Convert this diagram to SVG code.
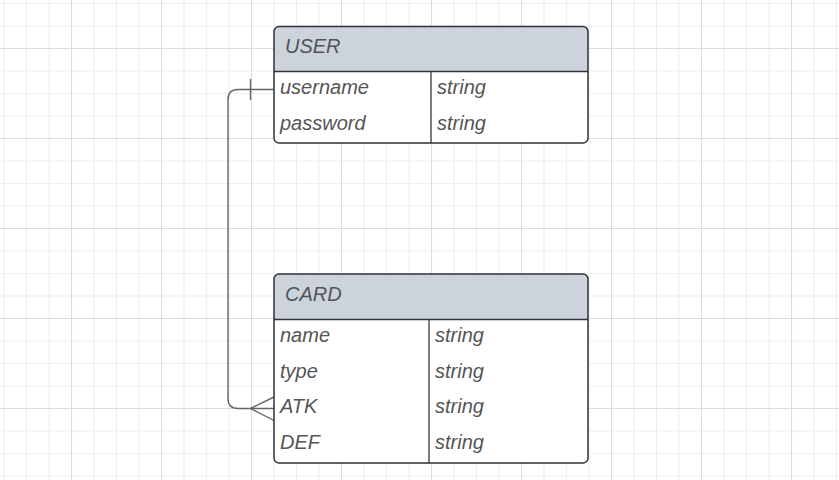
<svg xmlns="http://www.w3.org/2000/svg" width="839" height="480" viewBox="0 0 839 480">
  <style>
    .hdr { fill: #cdd3db; }
    .box { fill: none; stroke: #2e323b; stroke-width: 1.5; }
    .sep { stroke: #2e323b; stroke-width: 1.5; }
    .div { stroke: #6f6f72; stroke-width: 1.8; }
    .t { font-family: "Liberation Sans", Arial, sans-serif; font-style: italic; font-size: 20px; fill: #555555; }
    .th { font-family: "Liberation Sans", Arial, sans-serif; font-style: italic; font-size: 20px; fill: #50535a; }
    .conn { fill: none; stroke: #62656c; stroke-width: 1.4; }
  </style>
  <defs>
    <pattern id="grid" x="-19" y="-42" width="90" height="90" patternUnits="userSpaceOnUse">
      <path d="M23 0V90M45.5 0V90M68 0V90M0 23H90M0 45.5H90M0 68H90" stroke="#eeeeee" stroke-width="1.2" fill="none"/>
      <path d="M0.5 0V90M0 0.5H90" stroke="#dcdcdc" stroke-width="1.2" fill="none"/>
    </pattern>
  </defs>
  <rect width="839" height="480" fill="#ffffff"/>
  <rect width="839" height="480" fill="url(#grid)"/>

  <g id="connectors">
    <path class="conn" d="M274 89.5 H238 Q228 89.5 228 99.5 V398.5 Q228 408.5 238 408.5 H274"/>
    <path class="conn" d="M250.5 79 V100"/>
    <path class="conn" d="M274 397 L250.5 408.5 L274 420.5"/>
  </g>

  <g id="user">
    <rect x="274" y="26.5" width="314" height="116.5" rx="5" fill="#ffffff"/>
    <path class="hdr" d="M274 71.5 V31.5 A5 5 0 0 1 279 26.5 H583 A5 5 0 0 1 588 31.5 V71.5 Z"/>
    <line class="div" x1="431" y1="71.5" x2="431" y2="143"/>
    <line class="sep" x1="274" y1="71.5" x2="588" y2="71.5"/>
    <rect class="box" x="274" y="26.5" width="314" height="116.5" rx="5"/>
    <text class="th" x="285" y="53.3">USER</text>
    <text class="t" x="280" y="93.5">username</text>
    <text class="t" x="437" y="93.5">string</text>
    <text class="t" x="280" y="129.5">password</text>
    <text class="t" x="437" y="129.5">string</text>
  </g>

  <g id="card">
    <rect x="274" y="274" width="314" height="189" rx="5" fill="#ffffff"/>
    <path class="hdr" d="M274 319.5 V279 A5 5 0 0 1 279 274 H583 A5 5 0 0 1 588 279 V319.5 Z"/>
    <line class="div" x1="429" y1="319.5" x2="429" y2="463"/>
    <line class="sep" x1="274" y1="319.5" x2="588" y2="319.5"/>
    <rect class="box" x="274" y="274" width="314" height="189" rx="5"/>
    <text class="th" x="285" y="300.8">CARD</text>
    <text class="t" x="280" y="341.5">name</text>
    <text class="t" x="435" y="341.5">string</text>
    <text class="t" x="280" y="377.5">type</text>
    <text class="t" x="435" y="377.5">string</text>
    <text class="t" x="280" y="413.3">ATK</text>
    <text class="t" x="435" y="413.3">string</text>
    <text class="t" x="280" y="449.3">DEF</text>
    <text class="t" x="435" y="449.3">string</text>
  </g>
</svg>
